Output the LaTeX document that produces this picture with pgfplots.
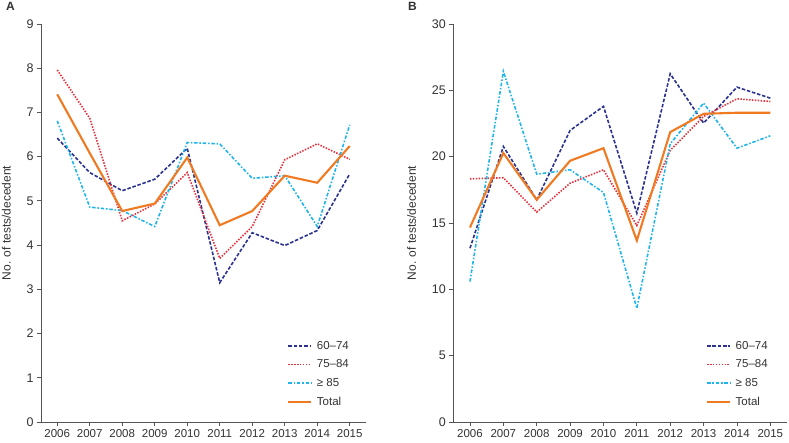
\documentclass[border=0pt]{standalone}
\usepackage{pgfplots}
\pgfplotsset{compat=1.18}
\usepackage{fontspec}
\setmainfont{Liberation Sans}

\definecolor{cNavy}{HTML}{2B3290}
\definecolor{cRed}{HTML}{E5323E}
\definecolor{cCyan}{HTML}{1FB5EA}
\definecolor{cOrange}{HTML}{F07A22}
\definecolor{cAxis}{HTML}{555555}
\definecolor{cText}{HTML}{333333}

\pgfplotsset{
  panel/.style={
    scale only axis,
    height=398pt,
    axis lines*=left,
    axis line style={cAxis, line width=0.8pt},
    every tick/.style={cAxis, line width=0.8pt},
    tick align=outside,
    major tick length=4pt,
    xmin=2005.5, xmax=2015.5,
    ymin=0,
    xtick={2006,...,2015},
    /pgf/number format/1000 sep={},
    /pgf/number format/assume math mode=true,
    tick label style={font=\fontsize{11.5}{12}\selectfont, text=cText},
    yticklabel style={font=\fontsize{12.5}{13}\selectfont},
    label style={font=\fontsize{12}{13}\selectfont, text=cText},
    ylabel={No. of tests/decedent},
    ylabel shift=9pt,
    legend cell align=left,
    legend style={draw=none, fill=none, font=\fontsize{11.5}{12}\selectfont,
      text=cText, row sep=4.9pt, column sep=2.5pt, anchor=north west},
    legend image code/.code={\draw[#1] (0pt,0pt) -- (23pt,0pt);},
  },
  s6074/.style={cNavy, line width=1.6pt, dash pattern=on 3.5pt off 1.8pt},
  s7584/.style={cRed, line width=1.6pt, dash pattern=on 1.5pt off 1.4pt},
  s85/.style={cCyan, line width=1.6pt, dash pattern=on 3.5pt off 1.8pt on 1.5pt off 1.8pt},
  stot/.style={cOrange, line width=2.1pt},
}

\begin{document}
\begin{tikzpicture}
\useasboundingbox (0,0) rectangle (789pt,443pt);
\node[anchor=north west, font=\bfseries\fontsize{12}{13}\selectfont, text=cText, inner sep=0pt] at (6pt,441pt) {A};
\node[anchor=north west, font=\bfseries\fontsize{12}{13}\selectfont, text=cText, inner sep=0pt] at (408pt,441pt) {B};

\begin{axis}[panel, at={(41pt,21pt)}, anchor=origin, width=325pt,
    ymax=9, ytick={0,...,9},
    legend style={at={(0.748,0.213)}}]
\addplot[s6074] coordinates {(2006,6.42) (2007,5.64) (2008,5.23) (2009,5.49) (2010,6.19) (2011,3.15) (2012,4.28) (2013,3.99) (2014,4.33) (2015,5.61)};
\addplot[s7584] coordinates {(2006,7.96) (2007,6.87) (2008,4.55) (2009,4.93) (2010,5.64) (2011,3.70) (2012,4.42) (2013,5.93) (2014,6.29) (2015,5.94)};
\addplot[s85] coordinates {(2006,6.81) (2007,4.86) (2008,4.78) (2009,4.42) (2010,6.32) (2011,6.29) (2012,5.51) (2013,5.57) (2014,4.42) (2015,6.72)};
\addplot[stot] coordinates {(2006,7.41) (2007,6.08) (2008,4.77) (2009,4.94) (2010,5.98) (2011,4.45) (2012,4.77) (2013,5.57) (2014,5.41) (2015,6.24)};
\legend{60\textendash74, 75\textendash84, ≥ 85, Total}
\end{axis}

\begin{axis}[panel, at={(453.3pt,21pt)}, anchor=origin, width=333.7pt,
    ymax=30, ytick={0,5,...,30},
    legend style={at={(0.748,0.213)}}]
\addplot[s6074] coordinates {(2006,13.10) (2007,20.77) (2008,16.75) (2009,21.98) (2010,23.79) (2011,15.74) (2012,26.25) (2013,22.53) (2014,25.24) (2015,24.41)};
\addplot[s7584] coordinates {(2006,18.33) (2007,18.41) (2008,15.82) (2009,18.00) (2010,19.01) (2011,14.81) (2012,20.47) (2013,23.03) (2014,24.36) (2015,24.16)};
\addplot[s85] coordinates {(2006,10.59) (2007,26.43) (2008,18.68) (2009,19.01) (2010,17.30) (2011,8.57) (2012,20.97) (2013,24.04) (2014,20.64) (2015,21.57)};
\addplot[stot] coordinates {(2006,14.66) (2007,20.27) (2008,16.75) (2009,19.69) (2010,20.64) (2011,13.68) (2012,21.85) (2013,23.23) (2014,23.31) (2015,23.31)};
\legend{60\textendash74, 75\textendash84, ≥ 85, Total}
\end{axis}
\end{tikzpicture}
\end{document}
